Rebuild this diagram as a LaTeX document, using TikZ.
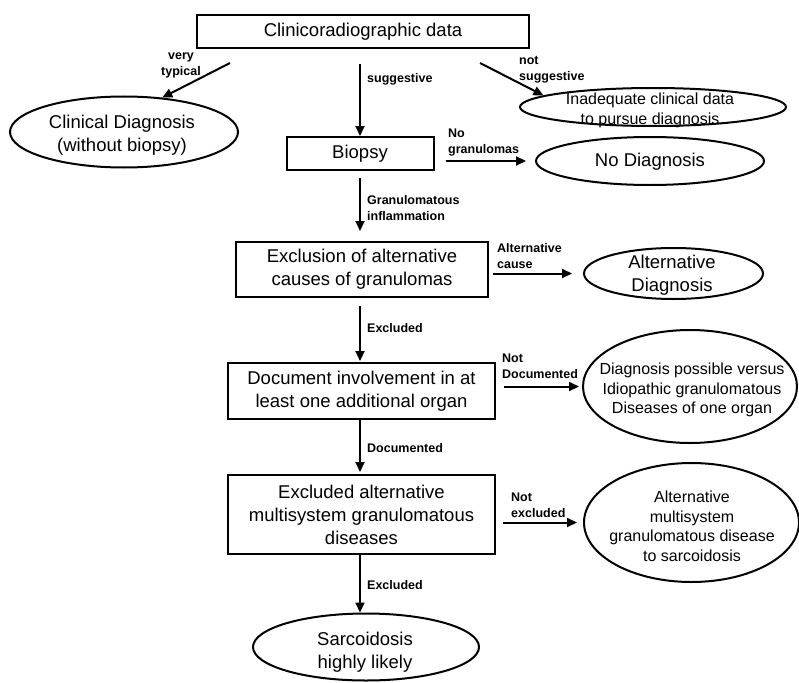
\documentclass[tikz,border=0pt]{standalone}
\usepackage{fontspec}
\setmainfont{Liberation Sans}
\usetikzlibrary{shapes.geometric,arrows.meta}

\begin{document}
\begin{tikzpicture}[x=1pt,y=-1pt,
    box/.style={draw,line width=2pt,inner sep=0pt,align=center,font=\fontsize{18.5}{23}\selectfont},
    oval/.style={draw,ellipse,line width=2pt,inner sep=0pt},
    txt/.style={align=center,inner sep=0pt,font=\fontsize{18.5}{23}\selectfont},
    small/.style={align=center,inner sep=0pt,font=\fontsize{16}{19.5}\selectfont},
    lbl/.style={align=left,anchor=west,inner sep=0pt,font=\bfseries\fontsize{12.5}{16}\selectfont},
    arr/.style={line width=2pt,-{Triangle[length=10pt,width=9pt]}}]
  \useasboundingbox (0,0) rectangle (799,682);
  % main column
  \node[box,minimum width=332pt,minimum height=33pt] (top) at (363,31.5) {Clinicoradiographic data};
  \node[box,minimum width=147pt,minimum height=33pt] (biopsy) at (360,153.5) {Biopsy};
  \node[box,minimum width=252pt,minimum height=55pt] (excl) at (362,269.5) {Exclusion of alternative\\causes of granulomas};
  \node[box,minimum width=267pt,minimum height=56pt] (doc) at (361.5,391) {Document involvement in at\\least one additional organ};
  \node[box,minimum width=267pt,minimum height=79pt] (exd) at (361.5,514.5) {Excluded alternative\\multisystem granulomatous\\diseases};
  \node[oval,minimum width=226pt,minimum height=67pt] (sl) at (366,647) {};
  \node[txt] (sltxt) at (365,652) {Sarcoidosis\\highly likely};
  % outcomes
  \node[oval,minimum width=228pt,minimum height=71pt] (cd) at (124,132) {};
  \node[txt] (cdtxt) at (122,135) {Clinical Diagnosis\\(without biopsy)};
  \node[oval,minimum width=266pt,minimum height=38pt] (ia) at (653,107) {};
  \node[small] (iatxt) at (650,110.5) {Inadequate clinical data\\to pursue diagnosis};
  \node[oval,minimum width=228pt,minimum height=48pt] (nd) at (650,161) {};
  \node[txt] (ndtxt) at (650,162) {No Diagnosis};
  \node[oval,minimum width=179pt,minimum height=51pt] (ad) at (673.5,273.5) {};
  \node[txt] (adtxt) at (672,275) {Alternative\\Diagnosis};
  \node[oval,minimum width=214pt,minimum height=113pt] (dp) at (690,386.5) {};
  \node[small] (dptxt) at (692,390) {Diagnosis possible versus\\Idiopathic granulomatous\\Diseases of one organ};
  \node[oval,minimum width=215pt,minimum height=119pt] (am) at (691.5,522.5) {};
  \node[small] (amtxt) at (692,526.5) {Alternative\\multisystem\\granulomatous disease\\to sarcoidosis};
  % connectors
  \coordinate (vt) at (230,63);
  \coordinate (ns) at (480,63);
  \draw[arr] (vt) -- (cd.42);
  \draw[arr,shorten <=15pt] (top.south -| biopsy.north) -- (biopsy.north);
  \draw[arr] (ns) -- (ia.174);
  \draw[arr,shorten <=11pt,shorten >=9pt] (nd.west -| biopsy.east) -- (nd.west);
  \draw[arr,shorten <=7pt,shorten >=10pt] (biopsy.south) -- (biopsy.south |- excl.north);
  \draw[arr,shorten <=4pt,shorten >=11pt] (ad.west -| excl.east) -- (ad.west);
  \draw[arr,shorten <=8pt,shorten >=1pt] (biopsy.south |- excl.south) -- (biopsy.south |- doc.north);
  \draw[arr,shorten <=8pt,shorten >=3pt] (dp.west -| doc.east) -- (dp.west);
  \draw[arr,shorten >=2pt] (biopsy.south |- doc.south) -- (biopsy.south |- exd.north);
  \draw[arr,shorten <=7pt,shorten >=6pt] (am.west -| exd.east) -- (am.west);
  \draw[arr] (biopsy.south |- exd.south) -- (biopsy.south |- sl.north);
  % labels
  \node[lbl,align=center,anchor=center] (vtl) at (181,65) {very\\typical};
  \node[lbl] (sgl) at (367,79) {suggestive};
  \node[lbl] (nsl) at (519,70) {not\\suggestive};
  \node[lbl] (ngl) at (448,143) {No\\granulomas};
  \node[lbl] (gil) at (367,208) {Granulomatous\\inflammation};
  \node[lbl] (acl) at (497,256) {Alternative\\cause};
  \node[lbl] (ex1) at (367,328) {Excluded};
  \node[lbl] (ndl) at (502,366) {Not\\Documented};
  \node[lbl] (dcl) at (367,448) {Documented};
  \node[lbl] (nel) at (511,505) {Not\\excluded};
  \node[lbl] (ex2) at (367,585) {Excluded};
\end{tikzpicture}
\end{document}
